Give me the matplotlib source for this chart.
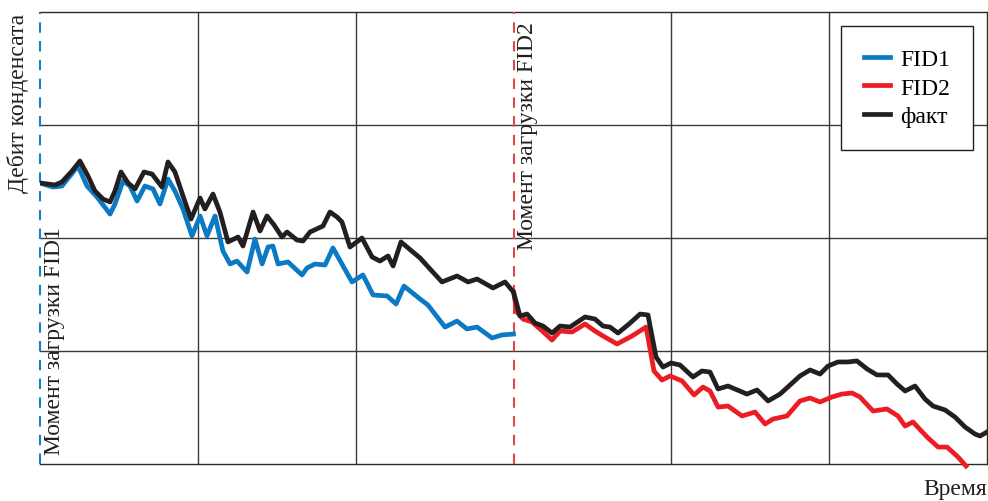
import matplotlib
matplotlib.use("Agg")
import matplotlib.pyplot as plt

# время (в долях сетки) и дебит (в долях сетки)
t_fact = [0.0, 0.095, 0.139, 0.203, 0.253, 0.304, 0.348, 0.399, 0.444, 0.475,
          0.513, 0.558, 0.602, 0.659, 0.710, 0.773, 0.811, 0.855, 0.906, 0.957,
          1.014, 1.045, 1.096, 1.140, 1.191, 1.255, 1.286, 1.350, 1.394, 1.438,
          1.483, 1.533, 1.565, 1.628, 1.666, 1.711, 1.793, 1.837, 1.882, 1.913,
          1.964, 2.040, 2.104, 2.154, 2.205, 2.237, 2.287, 2.408, 2.471, 2.547,
          2.642, 2.712, 2.769, 2.870, 2.946, 3.0, 3.041, 3.086, 3.136, 3.187,
          3.244, 3.295, 3.358, 3.453, 3.516, 3.567, 3.611, 3.662, 3.732, 3.802,
          3.852, 3.903, 3.947, 3.998, 4.055, 4.137, 4.194, 4.245, 4.296, 4.359,
          4.479, 4.543, 4.613, 4.689, 4.815, 4.879, 4.942, 4.993, 5.056, 5.119,
          5.176, 5.240, 5.303, 5.373, 5.430, 5.481, 5.544, 5.607, 5.658, 5.734,
          5.797, 5.861, 5.924, 5.956, 6.0]
q_fact = [2.487, 2.469, 2.496, 2.593, 2.681, 2.549, 2.416, 2.345, 2.319, 2.416,
          2.584, 2.487, 2.434, 2.584, 2.566, 2.451, 2.673, 2.584, 2.372, 2.168,
          2.354, 2.257, 2.389, 2.230, 1.965, 2.009, 1.929, 2.230, 2.062, 2.195,
          2.115, 2.009, 2.053, 1.982, 1.973, 2.053, 2.106, 2.230, 2.186, 2.142,
          1.920, 2.000, 1.832, 1.796, 1.841, 1.752, 1.965, 1.823, 1.726, 1.611,
          1.664, 1.611, 1.637, 1.558, 1.611, 1.522, 1.310, 1.327, 1.248, 1.221,
          1.159, 1.221, 1.212, 1.301, 1.283, 1.221, 1.212, 1.159, 1.239, 1.327,
          1.319, 0.947, 0.858, 0.894, 0.876, 0.770, 0.823, 0.814, 0.664, 0.690,
          0.619, 0.655, 0.558, 0.619, 0.779, 0.832, 0.796, 0.867, 0.903, 0.903,
          0.912, 0.841, 0.788, 0.788, 0.708, 0.646, 0.690, 0.575, 0.513, 0.478,
          0.416, 0.327, 0.265, 0.248, 0.283]

t_fid1 = [0.0, 0.082, 0.139, 0.190, 0.241, 0.298, 0.361, 0.444, 0.475, 0.526,
          0.570, 0.615, 0.665, 0.716, 0.760, 0.811, 0.855, 0.906, 0.963, 1.014,
          1.058, 1.109, 1.159, 1.204, 1.248, 1.312, 1.362, 1.407, 1.445, 1.476,
          1.508, 1.571, 1.660, 1.692, 1.742, 1.806, 1.856, 1.913, 1.977, 2.046,
          2.110, 2.199, 2.256, 2.306, 2.408, 2.458, 2.566, 2.642, 2.705, 2.769,
          2.864, 2.927, 3.0]
q_fid1 = [2.487, 2.451, 2.460, 2.549, 2.637, 2.460, 2.363, 2.212, 2.301, 2.504,
          2.460, 2.327, 2.460, 2.434, 2.301, 2.522, 2.416, 2.257, 2.018, 2.195,
          2.018, 2.195, 1.885, 1.770, 1.796, 1.699, 1.991, 1.770, 1.920, 1.929,
          1.770, 1.788, 1.673, 1.735, 1.770, 1.761, 1.912, 1.770, 1.611, 1.673,
          1.496, 1.487, 1.416, 1.575, 1.460, 1.407, 1.212, 1.265, 1.195, 1.212,
          1.115, 1.142, 1.150]

t_fid2 = [3.0, 3.022, 3.060, 3.117, 3.168, 3.244, 3.295, 3.371, 3.453, 3.516,
          3.567, 3.656, 3.751, 3.840, 3.890, 3.941, 3.992, 4.068, 4.144, 4.201,
          4.245, 4.296, 4.359, 4.448, 4.530, 4.594, 4.644, 4.733, 4.815, 4.879,
          4.942, 5.018, 5.081, 5.145, 5.195, 5.278, 5.366, 5.436, 5.481, 5.531,
          5.620, 5.690, 5.747, 5.816, 5.867]
q_fid2 = [1.522, 1.345, 1.283, 1.257, 1.195, 1.097, 1.177, 1.168, 1.239, 1.177,
          1.133, 1.062, 1.133, 1.212, 0.823, 0.743, 0.779, 0.735, 0.611, 0.681,
          0.646, 0.504, 0.513, 0.425, 0.460, 0.354, 0.398, 0.425, 0.558, 0.584,
          0.549, 0.593, 0.619, 0.628, 0.593, 0.469, 0.487, 0.425, 0.336, 0.372,
          0.239, 0.150, 0.150, 0.062, -0.018]

load_fid1 = 0.0
load_fid2 = 3.0
grid_x = [1, 2, 4, 5]
grid_y = [1, 2, 3]

plt.rcParams['font.family'] = ['Liberation Serif', 'DejaVu Serif']

fig = plt.figure(figsize=(9.88, 5.02), dpi=100)
ax = fig.add_axes([40 / 988, 37 / 502, 947 / 988, 452 / 502])

ax.set_xlim(0, 6)
ax.set_ylim(0, 4)
ax.set_xticks(grid_x)
ax.set_yticks(grid_y)
ax.tick_params(length=0, labelbottom=False, labelleft=False)
ax.grid(True, color='#3a3a3a', lw=1)
ax.spines['left'].set_visible(False)
for s in ['top', 'right', 'bottom']:
    ax.spines[s].set_color('#2a2a2a')
    ax.spines[s].set_linewidth(1)

# моменты загрузки
ax.axvline(load_fid1, color='#1580c8', ls=(0, (5, 4)), lw=1.5, zorder=3, clip_on=False)
ax.axvline(load_fid2, color='#e0474c', ls=(0, (5, 4)), lw=1.5, zorder=3)

ax.plot(t_fid1, q_fid1, color='#0a7ac4', lw=3.4, label='FID1', zorder=4)
ax.plot(t_fid2, q_fid2, color='#ec1c24', lw=3.4, label='FID2', zorder=4, clip_on=False)
ax.plot(t_fact, q_fact, color='#231f20', lw=3.4, label='факт', zorder=5)

ax.text(0.095, 0.09, 'Момент загрузки FID1', rotation=90, ha='center', va='bottom',
        fontsize=17, color='#231f20', zorder=6)
ax.text(3.086, 1.9, 'Момент загрузки FID2', rotation=90, ha='center', va='bottom',
        fontsize=17, color='#231f20', zorder=6)

fig.text(18 / 988, 1 - 103 / 502, 'Дебит конденсата', rotation=90, ha='center',
         va='center', fontsize=17, color='#231f20')
fig.text(987 / 988, 1 - 490 / 502, 'Время', ha='right', va='center',
         fontsize=17, color='#231f20')

leg = ax.legend(loc='upper right', bbox_to_anchor=(0.985, 0.969), borderaxespad=0,
                fancybox=False, framealpha=1, edgecolor='#231f20', fontsize=17,
                handlelength=1.1, handletextpad=0.45, labelspacing=0.3,
                borderpad=0.95)
leg.get_frame().set_linewidth(1)

fig.savefig('out.png', dpi=100)
